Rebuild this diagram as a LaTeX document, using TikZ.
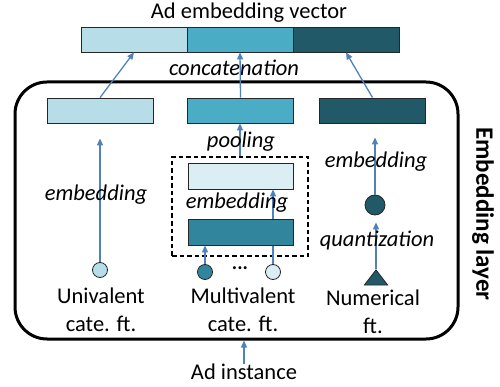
\documentclass[tikz,border=0pt]{standalone}
\usepackage{fontspec}
\setmainfont{Carlito}
\usetikzlibrary{arrows.meta,shapes.geometric}
\definecolor{cLight}{HTML}{B7DEE8}
\definecolor{cMid}{HTML}{4BACC6}
\definecolor{cDark}{HTML}{215968}
\definecolor{cPale}{HTML}{DAEEF3}
\definecolor{cTeal}{HTML}{31859C}
\definecolor{cArrow}{HTML}{4F81BD}
\tikzset{
  vecbox/.style={draw=black!85, line width=0.8pt, minimum width=106pt, minimum height=25pt, inner sep=0pt},
  featdot/.style={circle, draw=black!85, line width=0.8pt, minimum size=15pt, inner sep=0pt},
  conn/.style={draw=cArrow, line width=1.3pt, -{Triangle[width=6pt,length=7pt]}},
  lbl/.style={font=\fontsize{22.5}{28}\selectfont, align=center, inner sep=0pt},
  ilbl/.style={font=\fontsize{22.5}{26}\selectfont\itshape, inner sep=0pt},
}
\begin{document}
\begin{tikzpicture}[x=1pt,y=-1pt]
\useasboundingbox (0,0) rectangle (500,387);
% title and top vector
\node[lbl, font=\fontsize{22.5}{26}\selectfont] (title) at (249,13) {Ad embedding vector};
\node[vecbox, fill=cLight] (v1) at (134,39.5) {};
\node[vecbox, fill=cMid] (v2) at (240,39.5) {};
\node[vecbox, fill=cDark] (v3) at (346,39.5) {};
\node[ilbl] (concat) at (234,68) {concatenation};
% embedding layer frame
\node[draw, line width=3pt, rounded corners=32pt, minimum width=443pt, minimum height=257pt, inner sep=0pt] (layer) at (236.5,210.5) {};
\node[font=\fontsize{25}{28}\selectfont\bfseries, rotate=-90, inner sep=0pt] (layername) at (483,214) {Embedding layer};
% row of field embeddings
\node[vecbox, fill=cLight] (e1) at (100,110.5) {};
\node[vecbox, fill=cMid] (e2) at (240.5,110.5) {};
\node[vecbox, fill=cDark] (e3) at (372.5,110.5) {};
\draw[conn] (e1.north) -- (v1.south);
\draw[conn] (e2.north) -- (v2.south);
\draw[conn] (e3.north) -- (v3.south);
% univalent
\node[featdot, fill=cLight] (c1) at (100,270) {};
\coordinate (e1t) at ([yshift=-15pt]e1.south);
\draw[conn] (c1.north) -- (c1 |- e1t);
\node[ilbl] (emb1) at (96,195) {embedding};
\node[lbl] (uni) at (101,310) {Univalent\\cate. ft.};
% multivalent
\node[draw, dash pattern=on 4.5pt off 3pt, line width=1.5pt, minimum width=136pt, minimum height=99pt, inner sep=0pt] (db) at (240,206.5) {};
\node[featdot, fill=cTeal] (mc1) at (205,272) {};
\node[featdot, fill=cPale] (mc2) at (273,272) {};
\node[vecbox, fill=cPale, minimum width=105pt, minimum height=26pt] (m1) at (240.5,176) {};
\draw[conn] (mc2.north) -- (mc2 |- m1.south);
\node[vecbox, fill=cTeal, minimum width=105pt, minimum height=26pt] (m2) at (240.5,232) {};
\draw[conn] (mc1.north) -- (mc1 |- m2.south);
\node[ilbl] (emb2) at (237,203) {embedding};
\draw[conn] (db.north) -- (db |- e2.south);
\node[ilbl] (pool) at (241,142) {pooling};
\node[font=\fontsize{20}{24}\selectfont\bfseries, inner sep=0pt] (dots) at (240,268) {...};
\node[lbl] (multi) at (243,310) {Multivalent\\cate. ft.};
% numerical
\node[featdot, fill=cDark, minimum size=20pt] (rc) at (375,205) {};
\coordinate (e3t) at ([yshift=-14pt]e3.south);
\draw[conn] (rc.north) -- (rc |- e3t);
\node[ilbl] (emb3) at (376,162) {embedding};
\node[regular polygon, regular polygon sides=3, minimum size=27pt, yscale=0.75, inner sep=0pt, fill=cDark, draw=black!85, line width=0.8pt] (tri) at (376,280) {};
\coordinate (rcb) at ([yshift=-7pt]rc.south);
\draw[conn] (tri.north) -- (tri |- rcb);
\node[ilbl] (quant) at (377,241) {quantization};
\node[lbl] (num) at (373,312) {Numerical\\ft.};
% input
\node[lbl] (adi) at (244,372) {Ad instance};
\draw[conn] (adi.north) -- (adi |- layer.south);
\end{tikzpicture}
\end{document}
